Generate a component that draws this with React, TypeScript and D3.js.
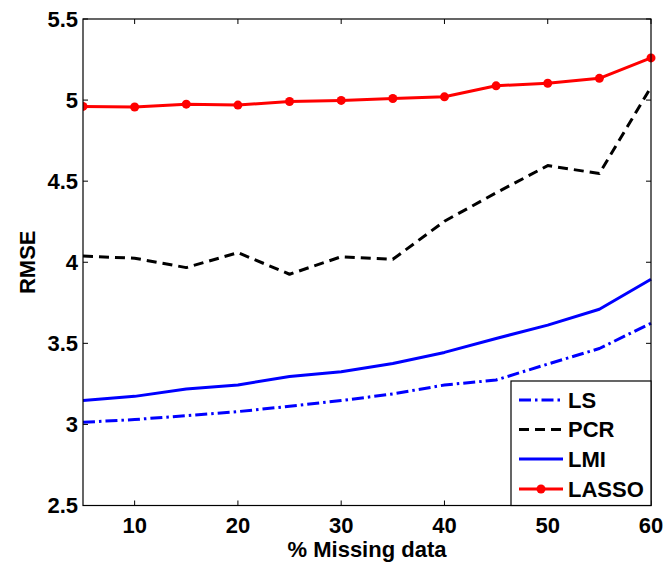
import React from "react";
import * as d3 from "d3";

const missing = [5, 10, 15, 20, 25, 30, 35, 40, 45, 50, 55, 60];
const lsValues = [3.013, 3.03, 3.054, 3.079, 3.112, 3.147, 3.188, 3.243, 3.274, 3.372, 3.468, 3.624];
const pcrValues = [4.038, 4.025, 3.967, 4.059, 3.926, 4.034, 4.018, 4.253, 4.428, 4.596, 4.547, 5.08];
const lmiValues = [3.147, 3.173, 3.218, 3.243, 3.296, 3.325, 3.376, 3.444, 3.53, 3.612, 3.71, 3.895];
const lassoValues = [4.961, 4.957, 4.975, 4.969, 4.991, 4.998, 5.01, 5.02, 5.088, 5.104, 5.134, 5.26];
const xTicks = [10, 20, 30, 40, 50, 60];
const yTicks = [2.5, 3, 3.5, 4, 4.5, 5, 5.5];
const seriesNames = ["LS", "PCR", "LMI", "LASSO"];

const W = 667, H = 570;
const left = 83, right = 651, top = 19, bottom = 505.5;
const FONT = "'Liberation Sans', Arial, Helvetica, sans-serif";

export default function App() {
  const x = d3.scaleLinear().domain([5, 60]).range([left, right]);
  const y = d3.scaleLinear().domain([2.5, 5.5]).range([bottom, top]);
  const line = d3.line<number>().x((_, i) => x(missing[i])).y((d) => y(d));

  const series = [
    { name: seriesNames[0], values: lsValues, color: "#0000ff", dash: "12,4,2.5,4", marker: false },
    { name: seriesNames[1], values: pcrValues, color: "#000000", dash: "10,6", marker: false },
    { name: seriesNames[2], values: lmiValues, color: "#0000ff", dash: null, marker: false },
    { name: seriesNames[3], values: lassoValues, color: "#ff0000", dash: null, marker: true },
  ];

  const tickLen = 5;
  const legL = 511, legT = 381, legR = right, legB = bottom;
  const legRows = [400, 429.5, 459, 489];

  return (
    <svg width={W} height={H} style={{ position: "absolute", left: 0, top: 0, background: "#fff" }}
      fontFamily={FONT} fontWeight="bold">
      <rect x={0} y={0} width={W} height={H} fill="#fff" />
      <defs>
        <clipPath id="plotclip">
          <rect x={left} y={top - 6} width={right - left + 8} height={bottom - top + 12} />
        </clipPath>
      </defs>
      <g clipPath="url(#plotclip)">
        {series.map((s) => (
          <g key={s.name}>
            <path d={line(s.values) || ""} fill="none" stroke={s.color} strokeWidth={3}
              strokeDasharray={s.dash || undefined} strokeLinejoin="round" />
            {s.marker && s.values.map((v, i) => (
              <circle key={i} cx={x(missing[i])} cy={y(v)} r={4.5} fill={s.color} />
            ))}
          </g>
        ))}
      </g>
      <rect x={left} y={top} width={right - left} height={bottom - top} fill="none" stroke="#000" strokeWidth={1.2} />
      {xTicks.map((t) => (
        <g key={"x" + t}>
          <line x1={x(t)} x2={x(t)} y1={bottom} y2={bottom - tickLen} stroke="#000" strokeWidth={1} />
          <line x1={x(t)} x2={x(t)} y1={top} y2={top + tickLen} stroke="#000" strokeWidth={1} />
          <text x={x(t)} y={533} textAnchor="middle" fontSize={22}>{t}</text>
        </g>
      ))}
      {yTicks.map((t) => (
        <g key={"y" + t}>
          <line x1={left} x2={left + tickLen} y1={y(t)} y2={y(t)} stroke="#000" strokeWidth={1} />
          <line x1={right} x2={right - tickLen} y1={y(t)} y2={y(t)} stroke="#000" strokeWidth={1} />
          <text x={78} y={y(t)} dy="0.36em" textAnchor="end" fontSize={22}>{t}</text>
        </g>
      ))}
      <text x={(left + right) / 2} y={557} textAnchor="middle" fontSize={22}>% Missing data</text>
      <text transform={`translate(35,${(top + bottom) / 2}) rotate(-90)`} textAnchor="middle" fontSize={22}>RMSE</text>
      <rect x={legL} y={legT} width={legR - legL} height={legB - legT} fill="#fff" stroke="#000" strokeWidth={1.2} />
      {series.map((s, i) => (
        <g key={"leg" + s.name}>
          <line x1={519} x2={563} y1={legRows[i]} y2={legRows[i]} stroke={s.color} strokeWidth={3}
            strokeDasharray={s.dash || undefined} />
          {s.marker && <circle cx={541} cy={legRows[i]} r={4.5} fill={s.color} />}
          <text x={568} y={legRows[i]} dy="0.36em" fontSize={22}>{s.name}</text>
        </g>
      ))}
    </svg>
  );
}
